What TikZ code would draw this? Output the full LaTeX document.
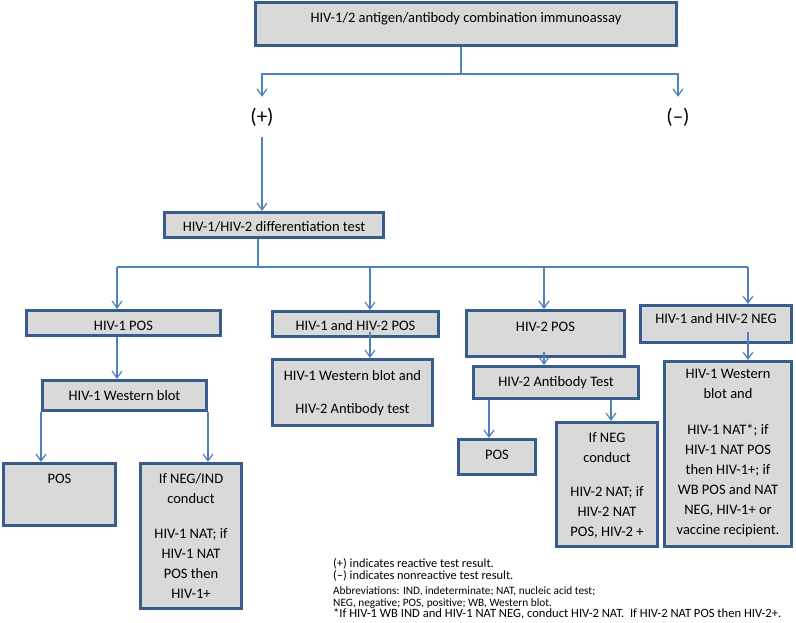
\documentclass[tikz,border=0pt]{standalone}
\usepackage{fontspec}
\setmainfont{Carlito}
\usetikzlibrary{arrows.meta,calc}
\definecolor{bordc}{RGB}{56,93,138}
\definecolor{fillc}{RGB}{217,217,217}
\definecolor{connc}{RGB}{79,129,189}
\newcommand{\bt}[4]{\parbox[c][#2pt][t]{#1pt}{\centering\fontsize{14.5}{20}\selectfont\rule{0pt}{#3pt}#4\par}}
\tikzset{
  box/.style={draw=bordc, line width=2.6pt, fill=fillc, inner sep=0pt, rectangle},
  line/.style={draw=connc, line width=1.2pt},
  conn/.style={line, -{Straight Barb[length=7pt,width=10pt]}},
  sign/.style={inner sep=0pt, minimum height=40pt, font=\fontsize{21}{24}\selectfont},
}
\begin{document}
\begin{tikzpicture}[x=1pt,y=-1pt]
\useasboundingbox (0,0) rectangle (796,623);
% top
\node[box] (top) at (466,24) {\bt{421.4}{43.4}{20.7}{HIV-1/2 antigen/antibody combination immunoassay}};
\node[sign] (plus) at (262,117) {(+)};
\node[sign] (minus) at (678,117) {(–)};
\coordinate (j1) at (461,74);
\draw[line] (top.south -| j1) -- (j1);
\draw[conn] (j1) -| (plus.north);
\draw[conn] (j1) -| (minus.north);
% differentiation
\node[box] (diff) at (274,225) {\bt{219.4}{25.4}{19.7}{HIV-1/HIV-2 differentiation test}};
\draw[conn] (plus.south) -- (plus.south |- diff.north);
\coordinate (j2) at (258,267);
\coordinate (a1) at (117,267);
\coordinate (a2) at (370,267);
\coordinate (a3) at (544,267);
\coordinate (a4) at (748,267);
\draw[line] (diff.south -| j2) -- (j2);
\draw[line] (a1) -- (a4);
% level 1
\node[box] (h1pos) at (123.5,323) {\bt{194.4}{25.4}{19.7}{HIV-1 POS}};
\node[box] (h12pos) at (355.5,324) {\bt{166.4}{25.4}{18.7}{HIV-1 and HIV-2 POS}};
\node[box] (h2pos) at (545.5,333.5) {\bt{158.4}{46.4}{20.7}{HIV-2 POS}};
\node[box] (neg) at (716,324) {\bt{151.4}{37.4}{18.7}{HIV-1 and HIV-2 NEG}};
\draw[conn] (a1) -- (a1 |- h1pos.north);
\draw[conn] (a2) -- (a2 |- h12pos.north);
\draw[conn] (a3) -- (a3 |- h2pos.north);
\draw[conn] (a4) -- (a4 |- neg.north);
% level 2
\node[box] (wb1) at (124.5,395.5) {\bt{164.4}{30.4}{19.7}{HIV-1 Western blot}};
\node[box] (wbab) at (352.5,392.5) {\bt{160.4}{66.4}{20.7}{HIV-1 Western blot and\\[13pt]HIV-2 Antibody test}};
\node[box] (ab2) at (556,382.5) {\bt{165.4}{32.4}{19.7}{HIV-2 Antibody Test}};
\node[box] (big) at (728,454) {\bt{127.4}{185.4}{16.7}{HIV-1 Western\\blot and\\[16pt]HIV-1 NAT*; if\\HIV-1 NAT POS\\then HIV-1+; if\\WB POS and NAT\\NEG, HIV-1+ or\\vaccine recipient.}};
\draw[conn] (a1 |- h1pos.south) -- (a1 |- wb1.north);
\draw[conn] ($(a2 |- h12pos.south)+(0,-6)$) -- (a2 |- wbab.north);
\draw[conn] ($(a3 |- h2pos.south)+(0,-6)$) -- (a3 |- ab2.north);
\draw[conn] ($(a4 |- neg.south)+(0,-12)$) -- (a4 |- big.north);
% level 3
\node[box] (pos1) at (59.5,494.5) {\bt{112.4}{62.4}{19.7}{POS}};
\node[box] (nat1) at (191,536) {\bt{101.4}{145.4}{19.7}{If NEG/IND\\conduct\\[15pt]HIV-1 NAT; if\\HIV-1 NAT\\POS then\\HIV-1+}};
\node[box] (pos2) at (497,457) {\bt{77.4}{35.4}{19.7}{POS}};
\node[box] (nat2) at (607,484.5) {\bt{101.4}{124.4}{19.7}{If NEG\\conduct\\[14pt]HIV-2 NAT; if\\HIV-2 NAT\\POS, HIV-2 +}};
\coordinate (b1) at ($(ab2.south west)+(17,0)$);
\coordinate (b2) at ($(ab2.south west)+(139,0)$);
\draw[conn] (wb1.south west) -- (wb1.south west |- pos1.north);
\draw[conn] (wb1.south east) -- (wb1.south east |- nat1.north);
\draw[conn] (b1) -- (b1 |- pos2.north);
\draw[conn] (b2) -- (b2 |- nat2.north);
% notes
\node[anchor=base west, inner sep=0pt] (notes) at (333,567) {\parbox[t]{500pt}{\raggedright
\fontsize{12.4}{12}\selectfont (+) indicates reactive test result.\par
(–) indicates nonreactive test result.\par
\fontsize{11.3}{15}\selectfont Abbreviations: IND, indeterminate; NAT, nucleic acid test;\par
\fontsize{11.3}{12}\selectfont NEG, negative; POS, positive; WB, Western blot.\par
\fontsize{12.6}{11.5}\selectfont *If HIV-1 WB IND and HIV-1 NAT NEG, conduct HIV-2 NAT.\ \ If HIV-2 NAT POS then HIV-2+.\par}};
\end{tikzpicture}
\end{document}
